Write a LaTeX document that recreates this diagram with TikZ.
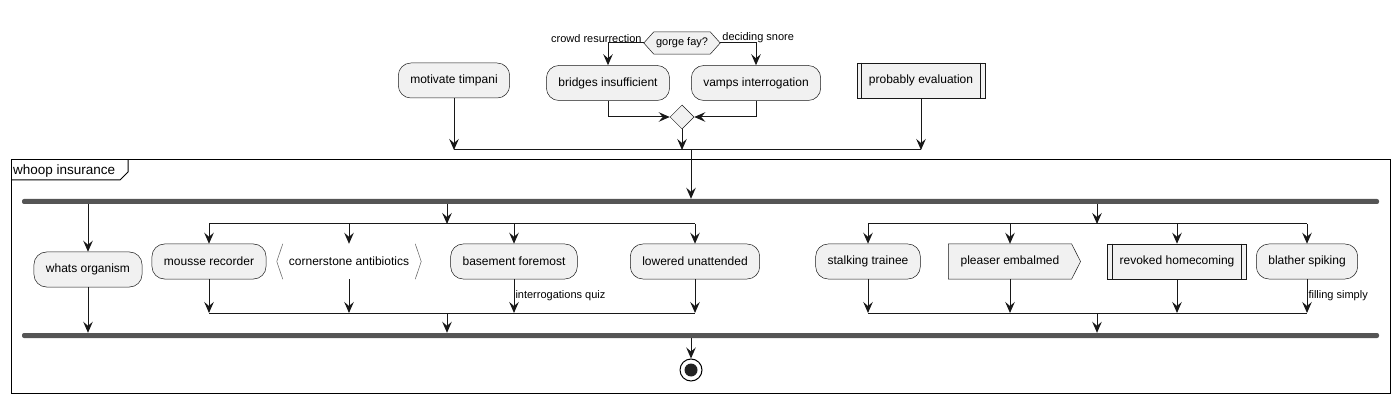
\documentclass[tikz,border=0pt]{standalone}
\usepackage{fontspec}
\setmainfont{Liberation Sans}
\usepackage{tikz}
\usetikzlibrary{arrows.meta,shapes.geometric,calc}
\pgfdeclarelayer{shapelayer}
\pgfsetlayers{shapelayer,main}

\definecolor{boxfill}{HTML}{F1F1F1}
\definecolor{boxline}{HTML}{181818}
\definecolor{barcol}{HTML}{555555}
\definecolor{dotcol}{HTML}{222222}

\tikzset{
  action/.style={rectangle, rounded corners=12.5pt, draw=boxline, line width=0.5pt,
    fill=boxfill, minimum height=35pt, inner xsep=12pt,
    font=\fontsize{12}{14}\selectfont},
  plainbox/.style={rectangle, minimum height=35pt, inner xsep=12pt,
    font=\fontsize{12}{14}\selectfont},
  subproc/.style={plainbox, draw=boxline, line width=0.5pt, fill=boxfill},
  bar/.style={rectangle, fill=barcol, minimum height=5pt, minimum width=1357pt,
    inner sep=0pt, rounded corners=2pt},
  merge/.style={diamond, draw=boxline, line width=0.5pt, fill=boxfill,
    minimum width=24pt, minimum height=24pt, inner sep=0pt},
  guard/.style={font=\fontsize{11}{13}\selectfont, inner sep=1pt},
  flow/.style={draw=boxline, line width=1pt, -{Stealth[length=11pt,width=9.5pt,inset=4pt]}},
  link/.style={draw=boxline, line width=1pt},
  stopnode/.style={circle, draw=black, line width=1pt, fill=white, minimum size=22pt,
    inner sep=0pt, path picture={\fill[dotcol] (path picture bounding box.center) circle (6.5pt);}},
}

\begin{document}
\begin{tikzpicture}[x=1pt, y=-1pt]
  \useasboundingbox (0,0) rectangle (1399,403);

  % top part
  \node[plainbox, minimum width=76pt, minimum height=22pt, inner sep=0pt,
    font=\fontsize{11}{13}\selectfont] (gorge) at (682,43) {gorge fay?};
  \node[guard, anchor=south east] at ($(gorge.west)+(-1,1)$) {crowd resurrection};
  \node[guard, anchor=south west] at ($(gorge.east)+(1,1)$) {deciding snore};

  \node[action] (motivate) at (454,80.5) {motivate timpani};
  \node[action] (bridges) at (608,83) {bridges insufficient};
  \node[action] (vamps) at (756,83) {vamps interrogation};
  \node[subproc] (probably) at (921,80.5) {probably evaluation};
  \node[merge] (merge) at (682,117) {};

  \draw[flow] (gorge.west) -| (bridges.north);
  \draw[flow] (gorge.east) -| (vamps.north);
  \draw[flow] (bridges.south) |- (merge.west);
  \draw[flow] (vamps.south) |- (merge.east);

  \coordinate (joinL) at (454,150);
  \coordinate (joinR) at (921,150);
  \coordinate (joinC) at (691,150);
  \draw[link] (joinL) -- (joinR);
  \draw[flow] (motivate.south) -- (motivate.south |- joinL);
  \draw[flow] (merge.south) -- (merge.south |- joinL);
  \draw[flow] (probably.south) -- (probably.south |- joinL);

  % group
  \draw[black, line width=1pt] (11,160) rectangle (1390,393);
  \draw[black, line width=1pt] (11,180) -- (120,180) -- (128,172) -- (128,160);
  \node[anchor=south west, inner sep=1pt, font=\fontsize{13.5}{16}\selectfont] at (12,179) {whoop insurance};

  \node[bar] (forktop) at (700.5,201.5) {};
  \node[bar] (forkbot) at (700.5,335.5) {};
  \draw[flow] (joinC) -- (joinC |- forktop.north);

  % first branch
  \node[action] (whats) at (88,269.5) {whats organism};
  \draw[flow] (forktop.south -| whats.north) -- (whats.north);
  \draw[flow] (whats.south) -- (whats.south |- forkbot.north);

  % second branch
  \node[action] (mousse) at (209,261.5) {mousse recorder};
  \node[plainbox] (corner) at (349,261.5) {cornerstone antibiotics};
  \node[action] (basement) at (514,261.5) {basement foremost};
  \node[action] (lowered) at (695,261.5) {lowered unattended};
  \coordinate (splitA) at (447,224);
  \coordinate (mergeA) at (447,313);
  \draw[flow] (forktop.south -| splitA) -- (splitA);
  \draw[link] (splitA -| mousse) -- (splitA -| lowered);
  \draw[link] (mergeA -| mousse) -- (mergeA -| lowered);
  \foreach \n in {mousse,corner,basement,lowered} {
    \draw[flow] (splitA -| \n.north) -- (\n.north);
  }
  \foreach \n in {mousse,corner,lowered} {
    \draw[flow] (\n.south) -- (\n.south |- mergeA);
  }
  \draw[flow] (basement.south) -- (basement.south |- mergeA)
    node[guard, pos=0.5, anchor=west] {interrogations quiz};
  \draw[flow] (mergeA) -- (mergeA |- forkbot.north);
  \draw[boxline!70, line width=0.5pt] ([xshift=6pt]corner.north west) -- (corner.west) -- ([xshift=6pt]corner.south west);
  \draw[boxline!70, line width=0.5pt] ([xshift=-6pt]corner.north east) -- (corner.east) -- ([xshift=-6pt]corner.south east);

  % third branch
  \node[action] (stalking) at (868,261.5) {stalking trainee};
  \node[plainbox] (pleaser) at (1010,261.5) {pleaser embalmed};
  \node[subproc] (revoked) at (1177,261.5) {revoked homecoming};
  \node[action] (blather) at (1307,261.5) {blather spiking};
  \coordinate (splitB) at (1097,224);
  \coordinate (mergeB) at (1097,313);
  \draw[flow] (forktop.south -| splitB) -- (splitB);
  \draw[link] (splitB -| stalking) -- (splitB -| blather);
  \draw[link] (mergeB -| stalking) -- (mergeB -| blather);
  \foreach \n in {stalking,pleaser,revoked,blather} {
    \draw[flow] (splitB -| \n.north) -- (\n.north);
  }
  \foreach \n in {stalking,pleaser,revoked} {
    \draw[flow] (\n.south) -- (\n.south |- mergeB);
  }
  \draw[flow] (blather.south) -- (blather.south |- mergeB)
    node[guard, pos=0.5, anchor=west] {filling simply};
  \draw[flow] (mergeB) -- (mergeB |- forkbot.north);

  % side bars of the sub processes
  \foreach \n in {probably,revoked} {
    \draw[boxline, line width=0.5pt] ([xshift=5pt]\n.north west) -- ([xshift=5pt]\n.south west);
    \draw[boxline, line width=0.5pt] ([xshift=-5pt]\n.north east) -- ([xshift=-5pt]\n.south east);
  }

  % end
  \node[stopnode] (stop) at (691,370) {};
  \draw[flow] (forkbot.south -| stop) -- (stop.north);

  \begin{pgfonlayer}{shapelayer}
    \draw[boxline, line width=0.5pt, fill=boxfill] (gorge.west) -- ([xshift=10pt]gorge.north west)
      -- ([xshift=-10pt]gorge.north east) -- (gorge.east) -- ([xshift=-10pt]gorge.south east)
      -- ([xshift=10pt]gorge.south west) -- cycle;
    \draw[boxline, line width=0.5pt, fill=boxfill] (pleaser.north west) -- (pleaser.north east)
      -- ([xshift=9pt]pleaser.east) -- (pleaser.south east) -- (pleaser.south west) -- cycle;
  \end{pgfonlayer}
\end{tikzpicture}
\end{document}
